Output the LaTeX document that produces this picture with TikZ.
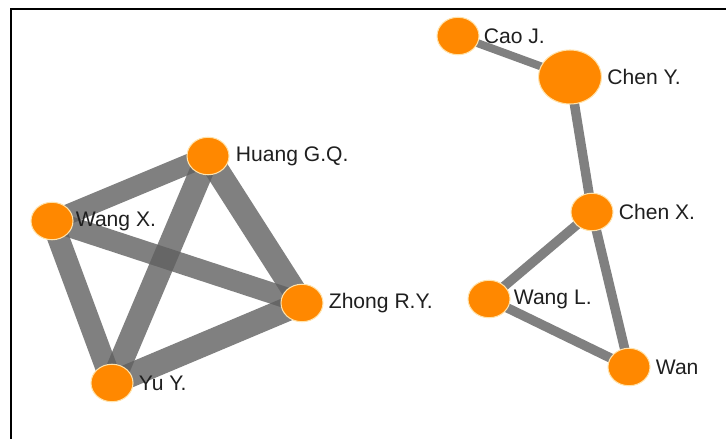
\documentclass[tikz,border=0pt]{standalone}
\usepackage{fontspec}
\setmainfont{Liberation Sans}
\usetikzlibrary{shapes.geometric,positioning,backgrounds}

\definecolor{authorange}{RGB}{255,136,0}
\definecolor{linkgray}{RGB}{96,96,96}
\definecolor{rimyellow}{RGB}{255,226,170}

\begin{document}
\begin{tikzpicture}[
  author/.style={ellipse, fill=authorange, draw=rimyellow, line width=0.6pt,
    minimum width=0.84cm, minimum height=0.75cm, inner sep=0pt},
  bigauthor/.style={author, minimum width=1.26cm, minimum height=1.08cm},
  authname/.style={font=\fontsize{12}{14}\selectfont, inner sep=0pt, text=black!88},
  link/.style={draw=linkgray, draw opacity=0.8, line width=#1},
]
\useasboundingbox (0,0) rectangle (14.52,-8.78);

% frame (only top and left edges show)
\draw[line width=1.4pt] (14.52,-0.18) -- (0.22,-0.18) -- (0.22,-8.78);

% =========================================================
% LEFT: four-author clique
% =========================================================
\node[author] (huang) at (4.16,-3.12) {};
\node[author] (wangx) at (1.04,-4.42) {};
\node[author] (yuy)   at (2.24,-7.66) {};
\node[author] (zhong) at (6.04,-6.06) {};

\node[authname, right=0.12cm of huang] (huanglbl) {Huang G.Q.};
\node[authname, right=0.04cm of wangx] (wangxlbl) {Wang X.};
\node[authname, right=0.1cm of yuy]    (yuylbl)   {Yu Y.};
\node[authname, right=0.1cm of zhong]  (zhonglbl) {Zhong R.Y.};

% =========================================================
% RIGHT: chain Cao -- Chen Y. -- Chen X. + triangle
% =========================================================
\node[author]    (cao)   at (9.16,-0.72) {};
\node[bigauthor] (cheny) at (11.40,-1.54) {};
\node[author]    (chenx) at (11.84,-4.24) {};
\node[author]    (wangl) at (9.78,-5.98) {};
\node[author]    (wan)   at (12.58,-7.34) {};

\node[authname, right=0.08cm of cao]   (caolbl)   {Cao J.};
\node[authname, right=0.1cm of cheny]  (chenylbl) {Chen Y.};
\node[authname, right=0.1cm of chenx]  (chenxlbl) {Chen X.};
\node[authname, right=0.06cm of wangl] (wangllbl) {Wang L.};
\node[authname, right=0.1cm of wan]    (wanlbl)   {Wan};

% co-author links, kept behind the nodes
\begin{scope}[on background layer]
  \foreach \a/\b/\w in {wangx/huang/0.40, wangx/yuy/0.44, wangx/zhong/0.42,
                        huang/yuy/0.48, huang/zhong/0.48, yuy/zhong/0.48}
    \draw[link=\w cm] (\a.center) -- (\b.center);

  \foreach \a/\b/\w in {cao/cheny/0.16, cheny/chenx/0.19, chenx/wangl/0.19,
                        chenx/wan/0.19, wangl/wan/0.19}
    \draw[link=\w cm] (\a.center) -- (\b.center);
\end{scope}

\end{tikzpicture}
\end{document}
